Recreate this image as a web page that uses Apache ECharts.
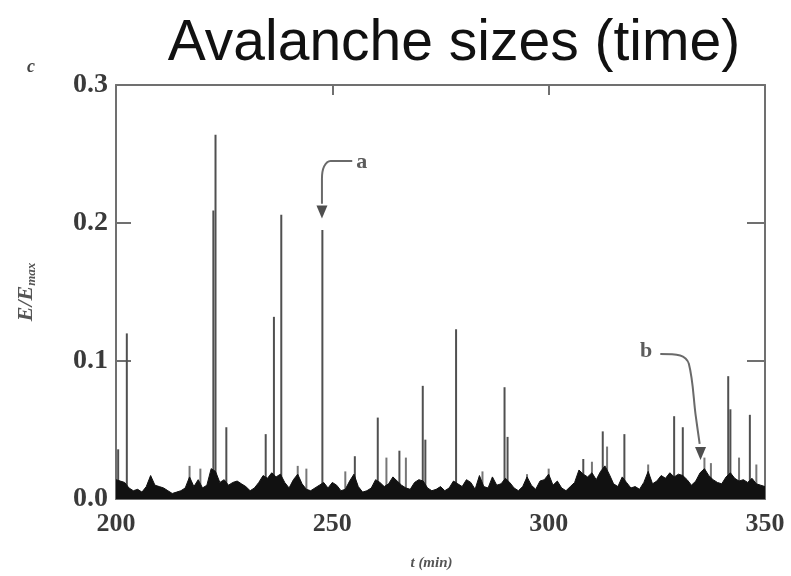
<!DOCTYPE html>
<html>
<head>
<meta charset="utf-8">
<script src="https://cdn.jsdelivr.net/npm/echarts@6/dist/echarts.min.js"></script>
<style>
  html, body { margin: 0; padding: 0; background: #ffffff; }
  #chart { width: 791px; height: 576px; }
</style>
</head>
<body>
<div id="chart"></div>
<script>
// Axis tick labels
const xTickLabels = ['200', '250', '300', '350'];
const yTickLabels = ['0.0', '0.1', '0.2', '0.3'];

// Background activity, one sample per minute starting at t = 200 min
const baselineStart = 200;
const baselineValues = [
  0.014, 0.013, 0.012, 0.008, 0.006, 0.007, 0.005, 0.009, 0.017, 0.010,
  0.009, 0.008, 0.006, 0.004, 0.005, 0.006, 0.008, 0.016, 0.009, 0.014,
  0.008, 0.010, 0.022, 0.020, 0.012, 0.014, 0.010, 0.012, 0.013, 0.011,
  0.009, 0.006, 0.008, 0.012, 0.017, 0.015, 0.019, 0.016, 0.018, 0.012,
  0.008, 0.014, 0.018, 0.011, 0.007, 0.006, 0.008, 0.010, 0.012, 0.008,
  0.012, 0.010, 0.006, 0.007, 0.013, 0.018, 0.009, 0.005, 0.006, 0.008,
  0.014, 0.012, 0.009, 0.011, 0.016, 0.013, 0.010, 0.008, 0.007, 0.012,
  0.014, 0.013, 0.008, 0.006, 0.007, 0.009, 0.006, 0.008, 0.013, 0.011,
  0.009, 0.014, 0.012, 0.007, 0.017, 0.009, 0.008, 0.016, 0.010, 0.011,
  0.015, 0.012, 0.008, 0.006, 0.009, 0.016, 0.010, 0.007, 0.013, 0.014,
  0.018, 0.010, 0.013, 0.008, 0.006, 0.009, 0.012, 0.021, 0.018, 0.016,
  0.019, 0.014, 0.020, 0.024, 0.018, 0.011, 0.009, 0.016, 0.012, 0.008,
  0.009, 0.007, 0.012, 0.020, 0.011, 0.013, 0.017, 0.015, 0.019, 0.016,
  0.018, 0.017, 0.014, 0.010, 0.013, 0.019, 0.022, 0.017, 0.014, 0.012,
  0.011, 0.016, 0.019, 0.015, 0.013, 0.014, 0.012, 0.015, 0.011, 0.010,
  0.009
];

// Large avalanches (time in min, relative energy)
const eventTimes = [
  200.5, 202.5, 222.5, 223.0, 225.5, 234.6, 236.5, 238.2, 247.7, 255.2,
  260.5, 265.5, 270.9, 271.5, 278.6, 289.8, 290.5, 308.0, 312.5, 317.5,
  329.0, 331.0, 341.5, 342.0, 346.5
];
const eventValues = [
  0.036, 0.120, 0.209, 0.264, 0.052, 0.047, 0.132, 0.206, 0.195, 0.031,
  0.059, 0.035, 0.082, 0.043, 0.123, 0.081, 0.045, 0.029, 0.049, 0.047,
  0.060, 0.052, 0.089, 0.065, 0.061
];

// Smaller avalanches just above the background
const minorTimes = [
  217.0, 219.5, 242.0, 244.0, 253.0, 262.5, 267.0, 284.7, 295.0, 300.0,
  310.0, 313.5, 323.0, 336.0, 337.5, 344.0, 348.0
];
const minorValues = [
  0.024, 0.022, 0.024, 0.022, 0.020, 0.030, 0.030, 0.020, 0.018, 0.022,
  0.027, 0.038, 0.025, 0.030, 0.026, 0.030, 0.025
];

// Annotations: labelled events and their pointer arrows
const markerNames = ['a', 'b'];
const markerLabelPos = [[256.8, 0.244], [322.5, 0.107]];
const arrowPaths = [
  [[254.6, 0.245], [249.6, 0.245], [248.1, 0.241], [247.6, 0.232], [247.6, 0.214]],
  [[325.8, 0.105], [330.4, 0.104], [332.4, 0.098], [334.0, 0.060], [334.9, 0.040]]
];
const arrowHeads = [[247.6, 0.208], [335.1, 0.033]];

const baselineData = baselineValues.map((v, i) => [baselineStart + i, v]);
const eventData = eventTimes.map((t, i) => [t, eventValues[i]]);
const minorData = minorTimes.map((t, i) => [t, minorValues[i]]);

const serif = 'Liberation Serif';
const tickFont = { fontFamily: serif, fontWeight: 'bold', color: '#3a3a3a' };
const frameLine = { show: true, onZero: false, lineStyle: { color: '#707070', width: 2 } };
const tickLine = { color: '#707070', width: 2 };

const chart = echarts.init(document.getElementById('chart'), null, { renderer: 'canvas' });

const arrowSeries = arrowPaths.map(path => ({
  type: 'line',
  data: path,
  smooth: 0.35,
  symbol: 'none',
  silent: true,
  lineStyle: { color: '#6a6a6a', width: 2 },
  z: 5
}));

chart.setOption({
  animation: false,
  backgroundColor: '#ffffff',
  title: {
    text: 'Avalanche sizes (time)',
    left: 449,
    top: 11,
    textAlign: 'center',
    textStyle: { fontFamily: 'Liberation Sans', fontSize: 57, fontWeight: 'normal', color: '#111111' }
  },
  grid: { left: 116, right: 26, top: 85, bottom: 76, containLabel: false },
  xAxis: [
    {
      type: 'value', min: 200, max: 350, interval: 50, position: 'bottom',
      name: 't (min)', nameLocation: 'middle', nameGap: 57,
      nameTextStyle: { fontFamily: serif, fontStyle: 'italic', fontWeight: 'bold', fontSize: 15, color: '#555', padding: [0, 18, 0, 0] },
      axisLine: frameLine,
      axisTick: { show: true, inside: true, length: 10, lineStyle: tickLine },
      axisLabel: Object.assign({ margin: 12, fontSize: 26, formatter: v => xTickLabels[Math.round((v - 200) / 50)] }, tickFont),
      splitLine: { show: false }
    },
    {
      type: 'value', min: 200, max: 350, interval: 50, position: 'top',
      axisLine: frameLine,
      axisTick: { show: true, inside: true, length: 10, lineStyle: tickLine },
      axisLabel: { show: false },
      splitLine: { show: false }
    }
  ],
  yAxis: [
    {
      type: 'value', min: 0, max: 0.3, interval: 0.1, position: 'left',
      name: 'E/E{s|max}', nameLocation: 'middle', nameGap: 78, nameRotate: 90,
      nameTextStyle: {
        fontFamily: serif, fontStyle: 'italic', fontWeight: 'bold', fontSize: 22, color: '#555',
        rich: { s: { fontFamily: serif, fontStyle: 'italic', fontWeight: 'bold', fontSize: 13, color: '#555', padding: [10, 0, 0, 0] } }
      },
      axisLine: frameLine,
      axisTick: { show: true, inside: true, length: 15, lineStyle: tickLine },
      axisLabel: Object.assign({ margin: 8, fontSize: 28, formatter: v => yTickLabels[Math.round(v * 10)] }, tickFont),
      splitLine: { show: false }
    },
    {
      type: 'value', min: 0, max: 0.3, interval: 0.1, position: 'right',
      axisLine: frameLine,
      axisTick: { show: true, inside: true, length: 18, lineStyle: tickLine },
      axisLabel: { show: false },
      splitLine: { show: false }
    }
  ],
  graphic: [
    {
      type: 'text', left: 27, top: 58,
      style: { text: 'c', font: 'italic bold 18px "Liberation Serif"', fill: '#444' }
    }
  ],
  series: [
    {
      name: 'background',
      type: 'line',
      data: baselineData,
      symbol: 'none',
      lineStyle: { color: '#111111', width: 1 },
      areaStyle: { color: '#111111', opacity: 1 },
      z: 3
    },
    {
      name: 'minor',
      type: 'bar',
      data: minorData,
      barWidth: 2,
      itemStyle: { color: '#777777' },
      z: 2
    },
    {
      name: 'events',
      type: 'bar',
      data: eventData,
      barWidth: 2,
      barGap: '-100%',
      itemStyle: { color: '#505050' },
      z: 2
    },
    ...arrowSeries,
    {
      name: 'arrowheads',
      type: 'scatter',
      data: arrowHeads,
      symbol: 'triangle',
      symbolRotate: 180,
      symbolSize: [11, 13],
      itemStyle: { color: '#222222' },
      silent: true,
      z: 6
    },
    {
      name: 'markers',
      type: 'scatter',
      data: markerLabelPos.map((p, i) => ({ value: p, name: markerNames[i] })),
      symbolSize: 0,
      silent: true,
      label: {
        show: true, position: 'inside', formatter: p => p.name,
        fontFamily: serif, fontWeight: 'bold', fontSize: 22, color: '#333'
      },
      z: 6
    }
  ]
});
</script>
</body>
</html>
